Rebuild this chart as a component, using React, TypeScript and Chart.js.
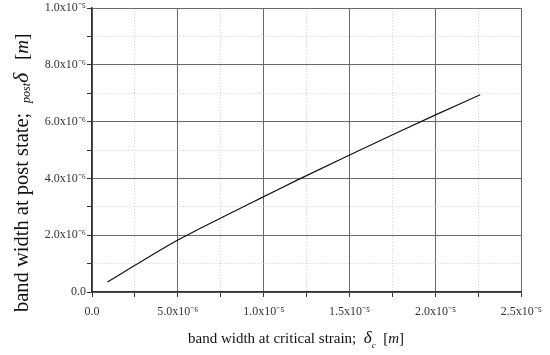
import React, { useEffect, useRef } from "react";
import { Chart, registerables } from "chart.js";

Chart.register(...registerables);

// δc [m] (x) and δpost [m] (y)
const criticalWidth = [0.9e-6, 2.5e-6, 5e-6, 7.5e-6, 1.0e-5, 1.2e-5, 1.5e-5, 1.75e-5, 2.0e-5, 2.26e-5];
const postWidth = [0.35e-6, 0.94e-6, 1.83e-6, 2.61e-6, 3.36e-6, 3.96e-6, 4.83e-6, 5.54e-6, 6.24e-6, 6.95e-6];

const xTickLabels = ["0.0", "5.0x10⁻⁶", "1.0x10⁻⁵", "1.5x10⁻⁵", "2.0x10⁻⁵", "2.5x10⁻⁵"];
const yTickLabels = ["0.0", "2.0x10⁻⁶", "4.0x10⁻⁶", "6.0x10⁻⁶", "8.0x10⁻⁶", "1.0x10⁻⁵"];

const xTitle = ["band width at critical strain;  ", "δ", "c", "  [", "m", "]"];
const yTitle = ["band width at post state;", "post", "δ", "[", "m", "]"];

const SERIF = '"Liberation Serif", "Times New Roman", serif';

type Seg = { t: string; f: string; dy?: number };

function drawSegs(ctx: CanvasRenderingContext2D, segs: Seg[], startX: number, baseline: number) {
  let x = startX;
  ctx.textAlign = "left";
  ctx.textBaseline = "alphabetic";
  segs.forEach((s) => {
    ctx.font = s.f;
    ctx.fillText(s.t, x, baseline + (s.dy || 0));
    x += ctx.measureText(s.t).width;
  });
  return x;
}

function segsWidth(ctx: CanvasRenderingContext2D, segs: Seg[]) {
  let w = 0;
  segs.forEach((s) => {
    ctx.font = s.f;
    w += ctx.measureText(s.t).width;
  });
  return w;
}

const titlePlugin = {
  id: "axisTitles",
  afterDraw(chart: any) {
    const ctx: CanvasRenderingContext2D = chart.ctx;
    ctx.save();
    ctx.fillStyle = "#111";
    const xs: Seg[] = [
      { t: xTitle[0], f: `15px ${SERIF}` },
      { t: xTitle[1], f: `italic 17px ${SERIF}` },
      { t: xTitle[2], f: `italic 9px ${SERIF}`, dy: 5 },
      { t: xTitle[3], f: `15px ${SERIF}` },
      { t: xTitle[4], f: `italic 15px ${SERIF}` },
      { t: xTitle[5], f: `15px ${SERIF}` },
    ];
    drawSegs(ctx, xs, 296 - segsWidth(ctx, xs) / 2, 343);
    ctx.restore();

    // vertical title, reading bottom to top
    ctx.save();
    ctx.fillStyle = "#111";
    ctx.translate(28, 0);
    ctx.rotate(-Math.PI / 2);
    drawSegs(ctx, [{ t: yTitle[0], f: `20.5px ${SERIF}` }], -312, 0);
    drawSegs(ctx, [{ t: yTitle[1], f: `italic 12px ${SERIF}`, dy: 2 }], -103, 0);
    drawSegs(ctx, [{ t: yTitle[2], f: `italic 22px ${SERIF}` }], -83, 0);
    drawSegs(
      ctx,
      [
        { t: yTitle[3], f: `19px ${SERIF}` },
        { t: yTitle[4], f: `italic 19px ${SERIF}` },
        { t: yTitle[5], f: `19px ${SERIF}` },
      ],
      -60,
      0
    );
    ctx.restore();
  },
};

const gridColor = (c: any) => (c.index % 2 === 0 ? "#6a6a6a" : "#cfcfcf");
const gridDash = (c: any) => (c.type === "tick" && c.index % 2 === 1 ? [1, 2] : []);

export default function App() {
  const ref = useRef<HTMLCanvasElement | null>(null);
  useEffect(() => {
    document.body.style.margin = "0";
    const canvas = ref.current!;
    const chart = new Chart(canvas, {
      type: "line",
      data: {
        datasets: [
          {
            data: criticalWidth.map((x, i) => ({ x, y: postWidth[i] })),
            borderColor: "#111",
            borderWidth: 1.2,
            pointRadius: 0,
            cubicInterpolationMode: "monotone",
            fill: false,
          },
        ],
      },
      options: {
        animation: false,
        responsive: false,
        maintainAspectRatio: false,
        layout: { padding: { top: 8, right: 27, left: 0, bottom: 0 } },
        plugins: { legend: { display: false }, tooltip: { enabled: false } },
        scales: {
          x: {
            type: "linear",
            min: 0,
            max: 2.5e-5,
            afterFit: (s: any) => {
              s.height = 63;
            },
            ticks: {
              stepSize: 2.5e-6,
              autoSkip: false,
              maxRotation: 0,
              padding: 8,
              color: "#333",
              font: { family: SERIF, size: 12 },
              callback: (_v: any, i: number) => (i % 2 === 0 ? xTickLabels[i / 2] : ""),
            },
            grid: {
              color: gridColor,
              lineWidth: 1,
              tickLength: 5,
              tickColor: "#333",
              tickWidth: 1,
            },
            border: { display: true, color: "#333", width: 1.5, dash: gridDash },
          },
          y: {
            type: "linear",
            min: 0,
            max: 1e-5,
            afterFit: (s: any) => {
              s.width = 92;
            },
            ticks: {
              stepSize: 1e-6,
              autoSkip: false,
              padding: 1,
              color: "#333",
              font: { family: SERIF, size: 12 },
              callback: (_v: any, i: number) => (i % 2 === 0 ? yTickLabels[i / 2] : ""),
            },
            grid: {
              color: gridColor,
              lineWidth: 1,
              tickLength: 5,
              tickColor: "#333",
              tickWidth: 1,
            },
            border: { display: true, color: "#333", width: 1.5, dash: gridDash },
          },
        },
      },
      plugins: [titlePlugin],
    });
    return () => chart.destroy();
  }, []);
  return (
    <div style={{ position: "absolute", left: 0, top: 0, width: 550, height: 355 }}>
      <canvas ref={ref} width={550} height={355} />
    </div>
  );
}
